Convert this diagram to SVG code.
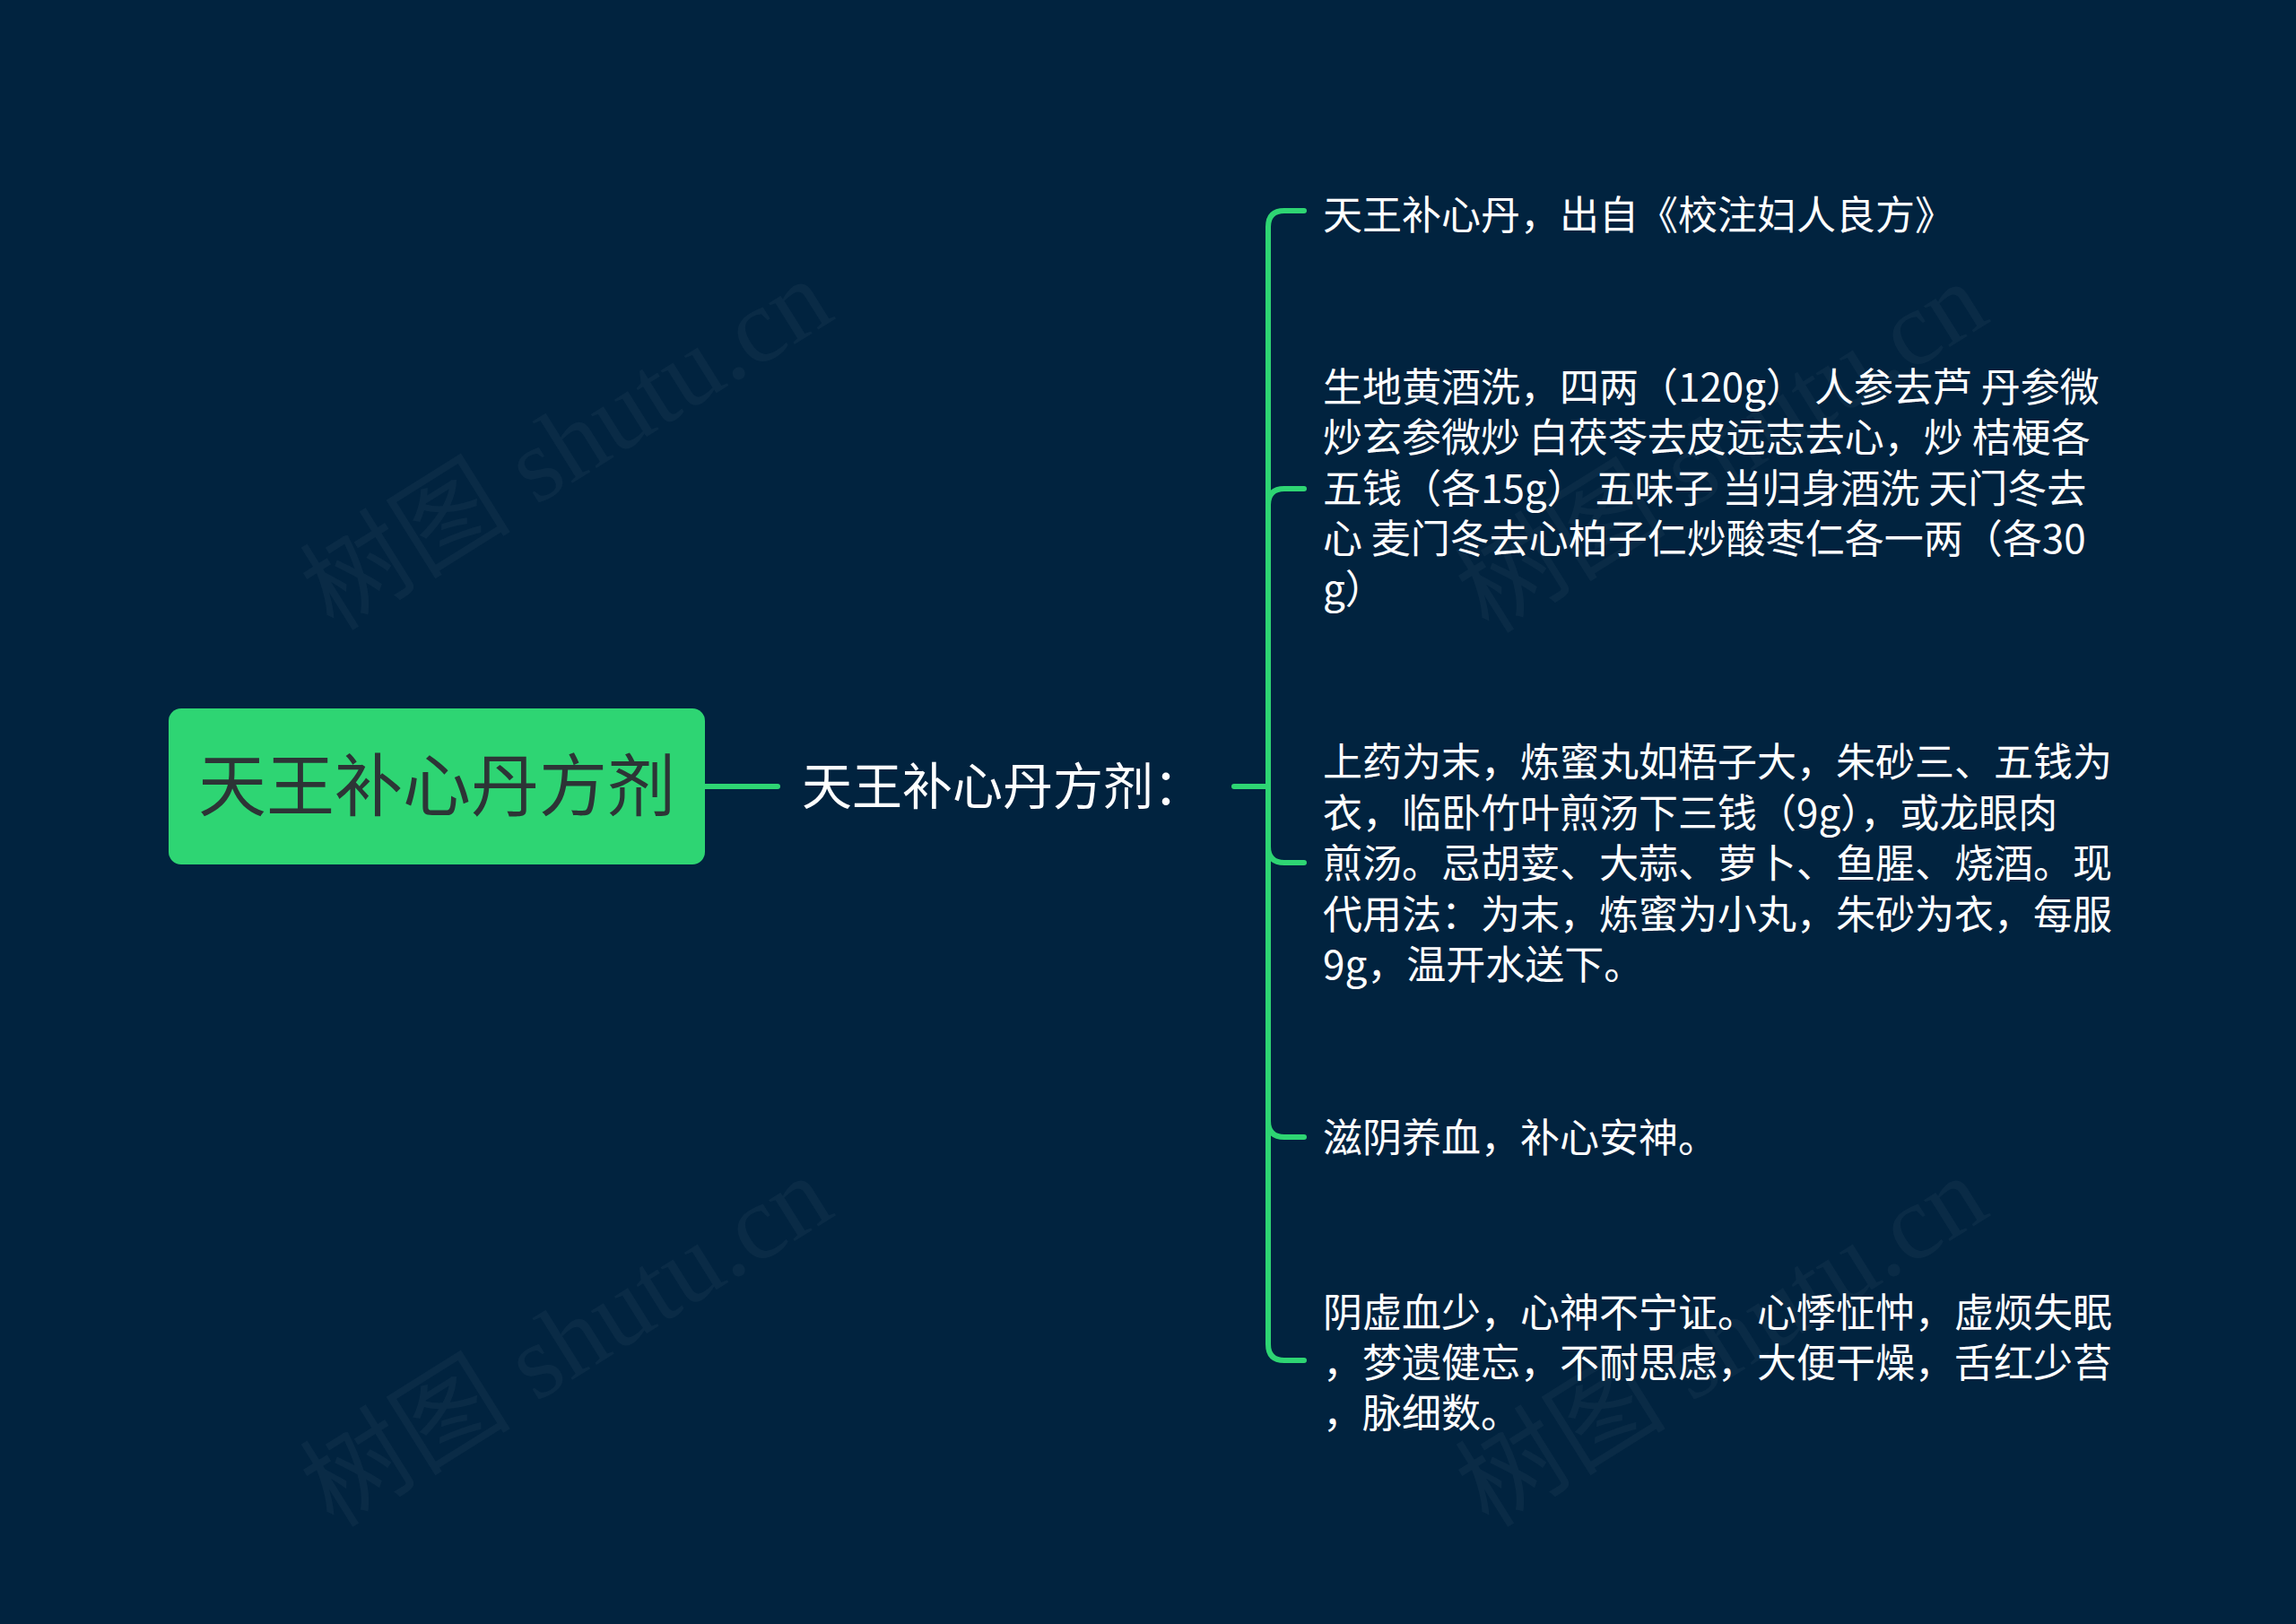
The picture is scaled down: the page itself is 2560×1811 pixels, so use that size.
<svg xmlns="http://www.w3.org/2000/svg" width="2560" height="1811" viewBox="0 0 2560 1811">
<defs>
<style>
.bg{fill:#01233f}
.wm{font-family:"Liberation Serif","Noto Sans CJK SC",serif;font-size:118px;fill:#ffffff;fill-opacity:0.04}
.conn{fill:none;stroke:#2ed573;stroke-width:6;stroke-linecap:round;stroke-linejoin:round}
.root-box{fill:#2ed573}
.root-text{font-family:"Noto Sans CJK SC","Noto Sans",sans-serif;font-size:76px;fill:#2d3436;text-anchor:middle}
.sub-text{font-family:"Noto Sans CJK SC","Noto Sans",sans-serif;font-size:56px;fill:#ffffff}
.leaf{font-family:"Noto Sans CJK SC","Noto Sans",sans-serif;font-size:44px;fill:#ffffff}
</style>
</defs>
<rect class="bg" x="0" y="0" width="2560" height="1811"/>
<g id="watermarks">
<text class="wm" transform="translate(372 705) rotate(-32)">树图 shutu.cn</text>
<text class="wm" transform="translate(372 1705) rotate(-32)">树图 shutu.cn</text>
<text class="wm" transform="translate(1660 708) rotate(-32)">树图 shutu.cn</text>
<text class="wm" transform="translate(1660 1705) rotate(-32)">树图 shutu.cn</text>
</g>
<g id="connectors">
<path class="conn" d="M786 877 H867"/>
<path class="conn" d="M1376 877 H1414"/>
<path class="conn" d="M1414 877 V253 Q1414 235 1432 235 H1454"/>
<path class="conn" d="M1414 877 V563 Q1414 545 1432 545 H1454"/>
<path class="conn" d="M1414 877 V944 Q1414 962 1432 962 H1454"/>
<path class="conn" d="M1414 877 V1250 Q1414 1268 1432 1268 H1454"/>
<path class="conn" d="M1414 877 V1499 Q1414 1517 1432 1517 H1454"/>
</g>
<g id="node-root">
<rect class="root-box" x="188" y="790" width="598" height="174" rx="14" ry="14"/>
<text class="root-text" x="487" y="904">天王补心丹方剂</text>
</g>
<g id="node-sub">
<text class="sub-text" x="894" y="897">天王补心丹方剂：</text>
</g>
<g id="node-1">
<text class="leaf" x="1475" y="256">天王补心丹，出自《校注妇人良方》</text>
</g>
<g id="node-2">
<text class="leaf">
<tspan x="1475" y="448">生地黄酒洗，四两（120g） 人参去芦 丹参微</tspan>
<tspan x="1475" y="504">炒玄参微炒 白茯苓去皮远志去心，炒 桔梗各</tspan>
<tspan x="1475" y="561">五钱（各15g） 五味子 当归身酒洗 天门冬去</tspan>
<tspan x="1475" y="617">心 麦门冬去心柏子仁炒酸枣仁各一两（各30</tspan>
<tspan x="1475" y="673">g）</tspan>
</text>
</g>
<g id="node-3">
<text class="leaf">
<tspan x="1475" y="866">上药为末，炼蜜丸如梧子大，朱砂三、五钱为</tspan>
<tspan x="1475" y="923">衣，临卧竹叶煎汤下三钱（9g），或龙眼肉</tspan>
<tspan x="1475" y="979">煎汤。忌胡荽、大蒜、萝卜、鱼腥、烧酒。现</tspan>
<tspan x="1475" y="1036">代用法：为末，炼蜜为小丸，朱砂为衣，每服</tspan>
<tspan x="1475" y="1092">9g，温开水送下。</tspan>
</text>
</g>
<g id="node-4">
<text class="leaf" x="1475" y="1285">滋阴养血，补心安神。</text>
</g>
<g id="node-5">
<text class="leaf">
<tspan x="1475" y="1480">阴虚血少，心神不宁证。心悸怔忡，虚烦失眠</tspan>
<tspan x="1475" y="1536">，梦遗健忘，不耐思虑，大便干燥，舌红少苔</tspan>
<tspan x="1475" y="1592">，脉细数。</tspan>
</text>
</g>
</svg>
